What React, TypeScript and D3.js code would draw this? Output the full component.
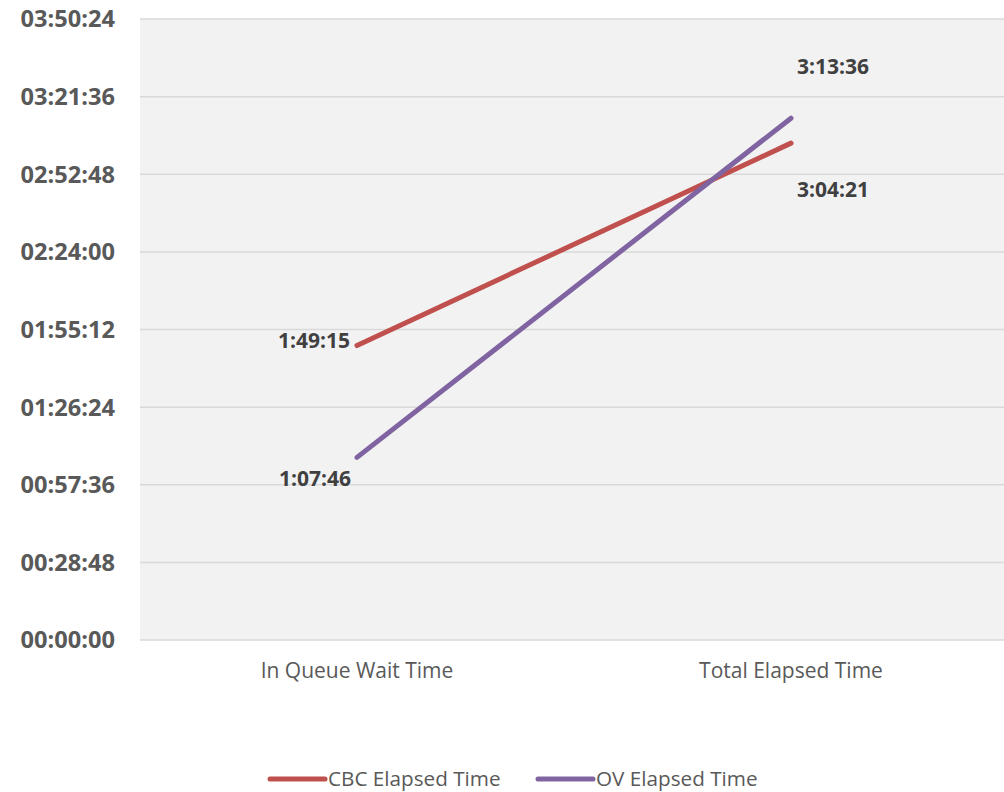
import React from 'react';
import * as d3 from 'd3';

// Chart values (seconds)
const categories = ['In Queue Wait Time', 'Total Elapsed Time'];
const seriesNames = ['CBC Elapsed Time', 'OV Elapsed Time'];
const cbcValues = [6555, 11061]; // 1:49:15, 3:04:21
const ovValues = [4066, 11616]; // 1:07:46, 3:13:36
const yTickValues = [0, 1728, 3456, 5184, 6912, 8640, 10368, 12096, 13824];

const colors = ['#c0504d', '#8064a2'];
const FONT = '"Open Sans", "Liberation Sans", sans-serif';

const pad = (n: number) => String(n).padStart(2, '0');
const fmtTick = (s: number) =>
    `${pad(Math.floor(s / 3600))}:${pad(Math.floor((s % 3600) / 60))}:${pad(s % 60)}`;
const fmtLabel = (s: number) =>
    `${Math.floor(s / 3600)}:${pad(Math.floor((s % 3600) / 60))}:${pad(s % 60)}`;

// label offsets relative to each point [dx, dy, anchor]
const labelPos: [number, number, string][][] = [
    [[-7, 2, 'end'], [42, 54, 'middle']],
    [[-42, 29, 'middle'], [42, -44, 'middle']],
];

const App = () => {
    const width = 1004;
    const height = 792;
    const left = 140;
    const top = 19;
    const bottom = 640;

    const x = d3.scaleBand().domain(categories).range([left, 1008]);
    const y = d3.scaleLinear().domain([0, 13824]).range([bottom, top]);
    const cx = (c: string) => (x(c) ?? 0) + x.bandwidth() / 2;

    const line = d3.line<number>()
        .x((_, i) => cx(categories[i]))
        .y(d => y(d));

    const series = [cbcValues, ovValues];

    return (
        <svg width={width} height={height}
            style={{ position: 'absolute', left: 0, top: 0, fontFamily: FONT }}>
            <rect x={left} y={top} width={width - left} height={bottom - top} fill="#f2f2f2" />
            {yTickValues.map(t => (
                <g key={t}>
                    <line x1={left} x2={width} y1={y(t)} y2={y(t)} stroke="#d9d9d9" strokeWidth={1.5} />
                    <text x={115} y={y(t)} dy="0.36em" textAnchor="end" fill="#595959"
                        fontSize={23.6} fontWeight={700}>{fmtTick(t)}</text>
                </g>
            ))}
            {categories.map(c => (
                <text key={c} x={cx(c)} y={678} textAnchor="middle" fill="#595959"
                    fontSize={21}>{c}</text>
            ))}
            {series.map((vals, si) => (
                <path key={si} d={line(vals) ?? ''} fill="none" stroke={colors[si]}
                    strokeWidth={5} strokeLinecap="round" />
            ))}
            {series.map((vals, si) => vals.map((v, i) => {
                const [dx, dy, anchor] = labelPos[si][i];
                return (
                    <text key={`${si}-${i}`} x={cx(categories[i]) + dx} y={y(v) + dy}
                        textAnchor={anchor as any} fill="#404040" fontSize={21}
                        fontWeight={700}>{fmtLabel(v)}</text>
                );
            }))}
            {seriesNames.map((name, si) => {
                const lx = [270, 538][si];
                return (
                    <g key={name}>
                        <line x1={lx} x2={lx + 55} y1={779} y2={779} stroke={colors[si]}
                            strokeWidth={5} strokeLinecap="round" />
                        <text x={lx + 58} y={786} fill="#595959" fontSize={20.7}>{name}</text>
                    </g>
                );
            })}
        </svg>
    );
};

export default App;
